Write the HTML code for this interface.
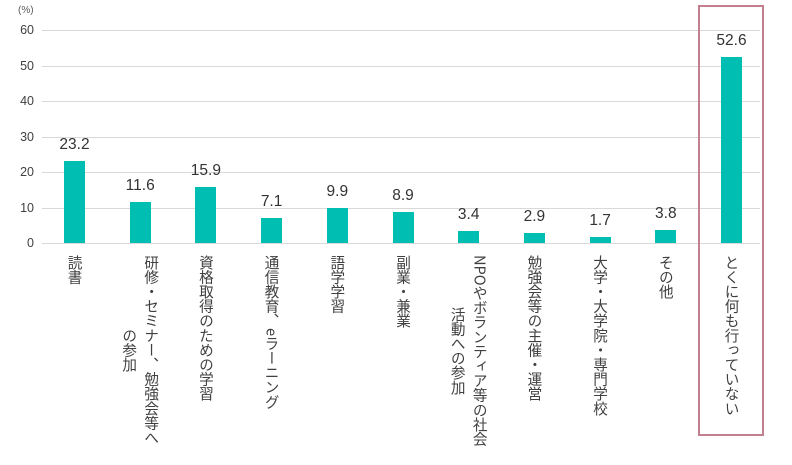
<!DOCTYPE html>
<html><head><meta charset="utf-8"><style>
html,body{margin:0;padding:0;background:#fff;}
body{width:792px;height:465px;position:relative;overflow:hidden;font-family:"Liberation Sans","Noto Sans CJK JP",sans-serif;}
.g{position:absolute;left:42px;width:718px;height:1px;background:#d9d9d9;}
.yl{position:absolute;width:30px;left:4px;text-align:right;font-size:12.5px;color:#404040;line-height:14px;}
.bar{position:absolute;width:21px;background:#00bfb2;}
.v{position:absolute;width:60px;text-align:center;font-size:15.5px;color:#333;line-height:16px;}
.lb{position:absolute;top:255px;writing-mode:vertical-rl;text-align:center;font-family:"Noto Sans CJK JP",sans-serif;font-size:14.6px;line-height:22px;color:#404040;white-space:nowrap;}
</style></head><body>
<div style="position:absolute;left:18px;top:5px;font-size:10px;color:#595959;">(%)</div>
<div class="g" style="top:30px"></div><div class="yl" style="top:23px">60</div>
<div class="g" style="top:66px"></div><div class="yl" style="top:59px">50</div>
<div class="g" style="top:101px"></div><div class="yl" style="top:94px">40</div>
<div class="g" style="top:137px"></div><div class="yl" style="top:130px">30</div>
<div class="g" style="top:172px"></div><div class="yl" style="top:165px">20</div>
<div class="g" style="top:208px"></div><div class="yl" style="top:201px">10</div>
<div class="g" style="top:243px"></div><div class="yl" style="top:236px">0</div>
<div style="position:absolute;left:698px;top:5px;width:62px;height:427px;border:2px solid #c47f8e;"></div>
<div id="c"></div>
<script>
var d=[[23.2,"読書"],[11.6,"研修・セミナー、勉強会等へ<br>の参加"],[15.9,"資格取得のための学習"],[7.1,"通信教育、eラーニング"],[9.9,"語学学習"],[8.9,"副業・兼業"],[3.4,"NPOやボランティア等の社会<br>活動への参加"],[2.9,"勉強会等の主催・運営"],[1.7,"大学・大学院・専門学校"],[3.8,"その他"],[52.6,"とくに何も行っていない"]];
var h="";
d.forEach(function(e,i){var c=74.5+65.7*i;var t=243.5-e[0]*3.555;
h+='<div class="bar" style="left:'+(c-10.5)+'px;top:'+t+'px;height:'+(243.5-t)+'px"></div>';
h+='<div class="v" style="left:'+(c-30)+'px;top:'+(t-24)+'px">'+e[0].toFixed(1)+'</div>';
var w=e[1].indexOf("<br>")>0?44:22;
h+='<div class="lb" style="left:'+(c-w/2)+'px;width:'+w+'px">'+e[1]+'</div>';});
document.getElementById("c").innerHTML=h;
</script>
</body></html>
